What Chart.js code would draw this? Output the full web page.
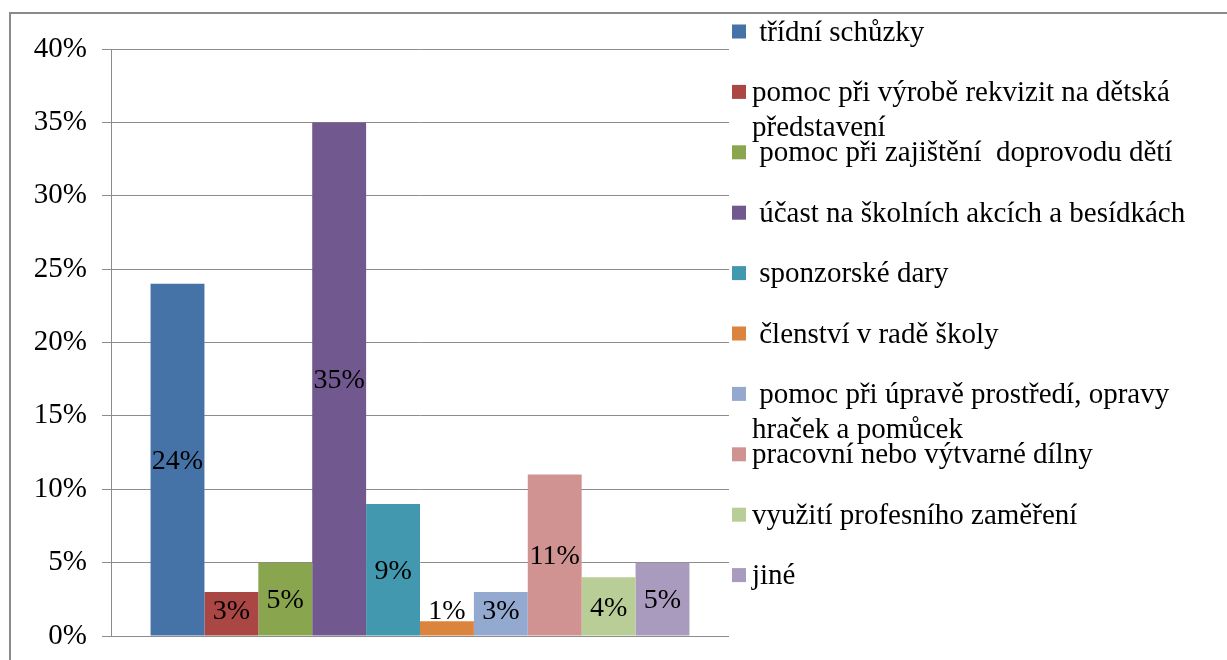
<!DOCTYPE html>
<html>
<head>
<meta charset="utf-8">
<script src="https://cdn.jsdelivr.net/npm/chart.js@4"></script>
<style>
  body { margin: 0; background: #fff; }
  canvas { display: block; }
</style>
</head>
<body>
<canvas id="chart" width="1227" height="660"></canvas>
<script>
// data
const seriesNames = [
	' třídní schůzky',
	'pomoc při výrobě rekvizit na dětská představení',
	' pomoc při zajištění  doprovodu dětí',
	' účast na školních akcích a besídkách',
	' sponzorské dary',
	' členství v radě školy',
	' pomoc při úpravě prostředí, opravy hraček a pomůcek',
	'pracovní nebo výtvarné dílny',
	'využití profesního zaměření',
	'jiné'
];
const seriesValues = [24, 3, 5, 35, 9, 1, 3, 11, 4, 5];
const seriesColors = ['#4572A7', '#AA4643', '#89A54E', '#71588F', '#4198AF', '#DB843D', '#93A9CF', '#D19392', '#B9CD96', '#A99BBD'];
const yTicks = [0, 5, 10, 15, 20, 25, 30, 35, 40];

const FONT = '"Liberation Serif"';
Chart.defaults.font.family = FONT;

// white background + outer frame
const frame = {
	id: 'frame',
	beforeDraw(chart) {
		const ctx = chart.ctx;
		ctx.save();
		ctx.fillStyle = '#fff';
		ctx.fillRect(0, 0, chart.width, chart.height);
		ctx.strokeStyle = '#8a8a8a';
		ctx.lineWidth = 2;
		ctx.strokeRect(10, 13, 1400, 800);
		ctx.restore();
	}
};

// value labels inside the bars
const barLabels = {
	id: 'barLabels',
	afterDatasetsDraw(chart) {
		const ctx = chart.ctx;
		ctx.save();
		ctx.font = '28px ' + FONT;
		ctx.fillStyle = '#000';
		ctx.textAlign = 'center';
		ctx.textBaseline = 'middle';
		chart.data.datasets.forEach((ds, i) => {
			const bar = chart.getDatasetMeta(i).data[0];
			const y = Math.min((bar.y + bar.base) / 2 + 2, bar.base - 24);
			ctx.fillText(ds.data[0] + '%', bar.x, y);
		});
		ctx.restore();
	}
};

// legend on the right, wrapped like the original
const sideLegend = {
	id: 'sideLegend',
	afterDraw(chart) {
		const ctx = chart.ctx;
		ctx.save();
		ctx.font = '29px ' + FONT;
		ctx.textBaseline = 'alphabetic';
		ctx.textAlign = 'left';
		const x0 = 732, textX = 752, maxW = 455;
		chart.data.datasets.forEach((ds, i) => {
			const cy = 31.5 + i * 60.4;
			ctx.fillStyle = ds.backgroundColor;
			ctx.fillRect(x0, cy - 7, 14, 14);
			ctx.fillStyle = '#000';
			// simple word wrap, keeps a leading space
			const words = ds.label.split(' ');
			let lines = [], line = words[0];
			for (let k = 1; k < words.length; k++) {
				const test = line + ' ' + words[k];
				if (ctx.measureText(test).width > maxW && line.trim() !== '') {
					lines.push(line);
					line = words[k];
				} else {
					line = test;
				}
			}
			lines.push(line);
			lines.forEach((l, k) => ctx.fillText(l, textX, cy + 9 + k * 35));
		});
		ctx.restore();
	}
};

function draw() {
	new Chart(document.getElementById('chart'), {
		type: 'bar',
		data: {
			labels: [''],
			datasets: seriesNames.map((name, i) => ({
				label: name,
				data: [seriesValues[i]],
				backgroundColor: seriesColors[i],
				borderWidth: 0
			}))
		},
		options: {
			responsive: false,
			animation: false,
			categoryPercentage: 0.872,
			barPercentage: 1,
			layout: { padding: { left: 10, top: 49, right: 498, bottom: 24 } },
			plugins: { legend: { display: false }, tooltip: { enabled: false } },
			scales: {
				x: { display: false },
				y: {
					min: 0,
					max: 40,
					afterFit(scale) {
						scale.width = 101;
						scale.paddingTop = 0;
						scale.paddingBottom = 0;
					},
					afterBuildTicks(scale) { scale.ticks = yTicks.map(v => ({ value: v })); },
					ticks: {
						padding: 15,
						color: '#000',
						font: { family: FONT, size: 29 },
						callback: v => v + '%'
					},
					grid: { color: '#8c8c8c', lineWidth: 1, tickLength: 9 },
					border: { color: '#8c8c8c', width: 1 }
				}
			}
		},
		plugins: [frame, barLabels, sideLegend]
	});
}

document.fonts.load('28px "Liberation Serif"').then(draw, draw);
</script>
</body>
</html>
